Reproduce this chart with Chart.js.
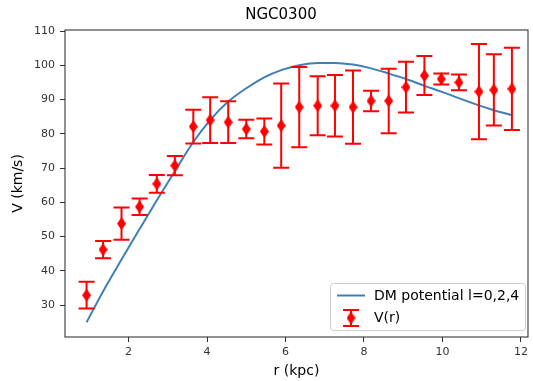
<!DOCTYPE html>
<html>
<head>
<meta charset="utf-8">
<script src="https://cdn.jsdelivr.net/npm/chart.js@4/dist/chart.umd.min.js"></script>
<style>
  html, body { margin: 0; padding: 0; background: #fff; }
  #wrap { width: 533px; height: 381px; }
</style>
</head>
<body>
<div id="wrap"><canvas id="chart" width="533" height="381"></canvas></div>
<script>
// radius (kpc) of each measured point
const rKpc = [0.93, 1.35, 1.82, 2.28, 2.72, 3.18, 3.65, 4.08, 4.54, 5.00, 5.46, 5.89, 6.35,
              6.82, 7.26, 7.72, 8.18, 8.63, 9.07, 9.54, 9.97, 10.42, 10.93, 11.31, 11.77];
// observed rotation velocity V(r) and its error
const vObs = [32.9, 46.2, 53.8, 58.7, 65.4, 70.7, 82.1, 84.0, 83.4, 81.4, 80.7, 82.4, 87.8,
              88.2, 88.2, 87.8, 89.6, 89.6, 93.6, 97.0, 96.0, 95.0, 92.3, 92.8, 93.1];
const vErr = [3.9, 2.55, 4.7, 2.4, 2.6, 2.8, 4.9, 6.7, 6.1, 2.7, 3.8, 12.3, 11.7,
              8.6, 9.0, 10.7, 3.0, 9.4, 7.4, 5.7, 1.6, 2.3, 13.9, 10.4, 12.0];
// model curve "DM potential l=0,2,4" at the same radii
const vModel = [25.0, 34.0, 43.3, 52.2, 60.6, 69.1, 77.6, 84.0, 89.4, 93.3, 96.5, 98.6, 100.0,
                100.7, 100.7, 100.2, 99.1, 97.6, 96.0, 94.0, 92.3, 90.4, 88.3, 86.9, 85.5];

const xTicks = [2, 4, 6, 8, 10, 12];
const yTicks = [30, 40, 50, 60, 70, 80, 90, 100, 110];

const FONT = 'DejaVu Sans';
const RED = '#ff0000';
const BLUE = '#3f7fb6';

// thin diamond marker like matplotlib 'd'
function diamond(w, h) {
    const c = document.createElement('canvas');
    c.width = w; c.height = h;
    const g = c.getContext('2d');
    g.fillStyle = RED;
    g.beginPath();
    g.moveTo(w / 2, 0);
    g.lineTo(w, h / 2);
    g.lineTo(w / 2, h);
    g.lineTo(0, h / 2);
    g.closePath();
    g.fill();
    return c;
}
const marker = diamond(9, 13);

function drawErrBar(ctx, x, yTop, yBot, cap) {
    ctx.beginPath();
    ctx.moveTo(x, yTop); ctx.lineTo(x, yBot);
    ctx.moveTo(x - cap, yTop); ctx.lineTo(x + cap, yTop);
    ctx.moveTo(x - cap, yBot); ctx.lineTo(x + cap, yBot);
    ctx.stroke();
}

const errorBars = {
    id: 'errorBars',
    beforeDatasetDraw(chart, args) {
        if (args.index !== 1) return;
        const {ctx, scales: {x, y}} = chart;
        ctx.save();
        ctx.strokeStyle = RED;
        ctx.lineWidth = 2;
        rKpc.forEach((r, i) => {
            drawErrBar(ctx, x.getPixelForValue(r),
                y.getPixelForValue(vObs[i] + vErr[i]),
                y.getPixelForValue(vObs[i] - vErr[i]), 8);
        });
        ctx.restore();
    },
    afterDatasetsDraw(chart) {
        const {ctx, chartArea: a} = chart;
        ctx.save();
        ctx.strokeStyle = '#222';
        ctx.lineWidth = 1;
        ctx.strokeRect(a.left, a.top, a.right - a.left, a.bottom - a.top);
        ctx.restore();
    },
    afterDraw(chart) {
        const {ctx, chartArea: a} = chart;
        ctx.save();
        // title
        ctx.fillStyle = '#000';
        ctx.font = '15px "' + FONT + '"';
        ctx.textAlign = 'center';
        ctx.textBaseline = 'middle';
        ctx.fillText('NGC0300', 281, 15);

        // legend box in lower right
        const w = 195, h = 47;
        const lx = a.right - 3 - w, ly = a.bottom - 7 - h;
        ctx.fillStyle = 'rgba(255,255,255,0.8)';
        ctx.strokeStyle = '#cccccc';
        ctx.lineWidth = 1;
        ctx.beginPath();
        ctx.roundRect(lx + 0.5, ly + 0.5, w, h, 3);
        ctx.fill();
        ctx.stroke();

        ctx.strokeStyle = BLUE;
        ctx.lineWidth = 2;
        ctx.beginPath();
        ctx.moveTo(lx + 7, ly + 12.5);
        ctx.lineTo(lx + 35, ly + 12.5);
        ctx.stroke();

        ctx.strokeStyle = RED;
        drawErrBar(ctx, lx + 21, ly + 27, ly + 43, 8);
        ctx.drawImage(marker, lx + 21 - 4.5, ly + 35 - 6.5);

        ctx.fillStyle = '#000';
        ctx.font = '14px "' + FONT + '"';
        ctx.textAlign = 'left';
        ctx.fillText('DM potential l=0,2,4', lx + 44, ly + 13);
        ctx.fillText('V(r)', lx + 44, ly + 35);
        ctx.restore();
    }
};

const tickFont = {family: FONT, size: 11};
const titleFont = {family: FONT, size: 14};

new Chart(document.getElementById('chart'), {
    type: 'scatter',
    data: {
        datasets: [
            {
                type: 'line',
                label: 'DM potential l=0,2,4',
                data: rKpc.map((r, i) => ({x: r, y: vModel[i]})),
                borderColor: BLUE,
                borderWidth: 2,
                pointRadius: 0,
                cubicInterpolationMode: 'monotone',
                fill: false,
                order: 2
            },
            {
                label: 'V(r)',
                data: rKpc.map((r, i) => ({x: r, y: vObs[i]})),
                pointStyle: marker,
                backgroundColor: RED,
                borderColor: RED,
                order: 1
            }
        ]
    },
    options: {
        responsive: false,
        animation: false,
        events: [],
        layout: {padding: {left: 0, right: 2, top: 30, bottom: 0}},
        plugins: {
            legend: {display: false},
            tooltip: {enabled: false},
            title: {display: false}
        },
        scales: {
            x: {
                type: 'linear',
                min: 0.38,
                max: 12.18,
                afterBuildTicks: s => { s.ticks = xTicks.map(v => ({value: v})); },
                afterFit: s => { s.height = 44; },
                border: {display: false},
                grid: {drawOnChartArea: false, drawTicks: true, tickLength: 5, color: '#333'},
                ticks: {font: tickFont, color: '#333', padding: 4, maxRotation: 0},
                title: {display: true, text: 'r (kpc)', color: '#000', font: titleFont,
                        padding: {top: 0, bottom: 1}}
            },
            y: {
                type: 'linear',
                min: 20.7,
                max: 110.3,
                afterBuildTicks: s => { s.ticks = yTicks.map(v => ({value: v})); },
                afterFit: s => { s.width = 65; },
                border: {display: false},
                grid: {drawOnChartArea: false, drawTicks: true, tickLength: 5, color: '#333'},
                ticks: {font: tickFont, color: '#333', padding: 5},
                title: {display: true, text: 'V (km/s)', color: '#000', font: titleFont,
                        padding: {top: 10, bottom: 0}}
            }
        }
    },
    plugins: [errorBars]
});
</script>
</body>
</html>
